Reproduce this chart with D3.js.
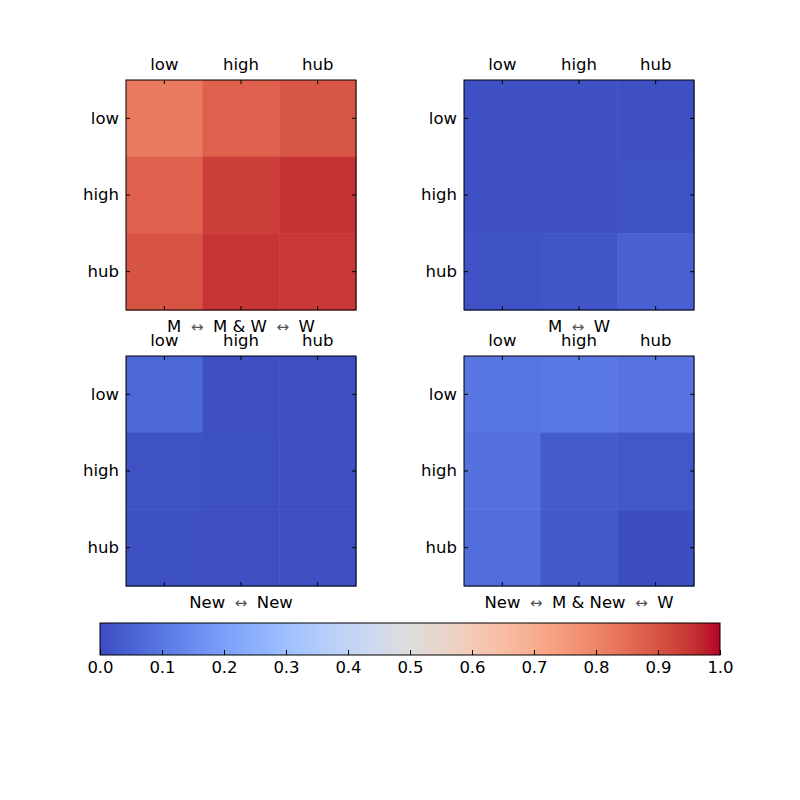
<!doctype html>
<html>
<head>
<script src="https://cdn.jsdelivr.net/npm/d3@7"></script>
<style>
  body { margin: 0; background: #fff; }
  text { font-family: "DejaVu Sans", sans-serif; }
</style>
</head>
<body>
<svg id="chart" width="800" height="800"></svg>
<script>
// categories on both axes
var levels = ["low", "high", "hub"];

// one matrix per panel, rows = y category, cols = x category
var mwMW  = [[0.825, 0.875, 0.895],
             [0.875, 0.935, 0.955],
             [0.900, 0.950, 0.945]];
var mW    = [[0.010, 0.010, 0.010],
             [0.010, 0.010, 0.015],
             [0.015, 0.020, 0.045]];
var newNew = [[0.060, 0.010, 0.006],
              [0.012, 0.008, 0.006],
              [0.008, 0.006, 0.006]];
var newMW = [[0.095, 0.100, 0.090],
             [0.085, 0.035, 0.025],
             [0.075, 0.030, 0.005]];

var panelData = [mwMW, mW, newNew, newMW];
// xlabel parts, arrows go between them
var panelLabels = [["M", "M & W", "W"], ["M", "W"], ["New", "New"], ["New", "M & New", "W"]];
var cbarTicks = [0, 0.1, 0.2, 0.3, 0.4, 0.5, 0.6, 0.7, 0.8, 0.9, 1.0];

// matplotlib coolwarm control points
var coolwarm = [
  [59,76,192],[68,90,204],[77,104,215],[87,117,225],[98,130,234],[108,142,241],
  [119,154,247],[130,165,251],[141,176,254],[152,185,255],[163,194,255],[174,201,253],
  [184,208,249],[194,213,244],[204,217,238],[213,219,230],[221,221,221],[229,216,209],
  [236,211,197],[241,204,185],[245,196,173],[247,187,160],[247,177,148],[247,166,135],
  [244,154,123],[241,141,111],[236,127,99],[229,112,88],[222,96,77],[213,80,66],
  [203,62,56],[192,40,47],[180,4,38]
].map(function(c) { return d3.rgb(c[0], c[1], c[2]).toString(); });

var color = d3.scaleLinear()
  .domain(d3.range(coolwarm.length).map(function(i) { return i / (coolwarm.length - 1); }))
  .range(coolwarm)
  .interpolate(d3.interpolateRgb)
  .clamp(true);

var svg = d3.select("#chart");
var size = 230;
var origins = [[126, 80], [464, 80], [126, 356], [464, 356]];

var x = d3.scaleBand().domain(levels).range([0, size]);
var y = d3.scaleBand().domain(levels).range([0, size]);

panelData.forEach(function(m, p) {
  var g = svg.append("g").attr("transform", "translate(" + origins[p][0] + "," + origins[p][1] + ")");

  var cells = [];
  m.forEach(function(row, i) {
    row.forEach(function(v, j) { cells.push({r: levels[i], c: levels[j], v: v}); });
  });

  g.selectAll("rect.cell")
    .data(cells)
    .enter().append("rect")
      .attr("class", "cell")
      .attr("x", function(d) { return x(d.c); })
      .attr("y", function(d) { return y(d.r); })
      .attr("width", x.bandwidth() + 0.5)
      .attr("height", y.bandwidth() + 0.5)
      .attr("fill", function(d) { return color(d.v); });

  // inward ticks on all four sides, labels on top and left
  var top = g.append("g").call(d3.axisTop(x).tickSize(-4).tickPadding(10));
  var bottom = g.append("g").attr("transform", "translate(0," + size + ")")
    .call(d3.axisBottom(x).tickSize(-4).tickFormat(""));
  var left = g.append("g").call(d3.axisLeft(y).tickSize(-4).tickPadding(7));
  var right = g.append("g").attr("transform", "translate(" + size + ",0)")
    .call(d3.axisRight(y).tickSize(-4).tickFormat(""));
  [top, bottom, left, right].forEach(function(a) {
    a.select(".domain").remove();
    a.selectAll("line").attr("stroke", "#000");
    a.selectAll("text").attr("font-size", 16.5).attr("fill", "#000").attr("font-family", "DejaVu Sans");
  });

  g.append("rect")
    .attr("width", size).attr("height", size)
    .attr("fill", "none").attr("stroke", "#000").attr("stroke-width", 1);

  // xlabel with arrows
  var lbl = g.append("text")
    .attr("x", size / 2).attr("y", size + 21.5)
    .attr("text-anchor", "middle")
    .attr("font-size", 16.5);
  panelLabels[p].forEach(function(part, k) {
    if (k > 0) {
      lbl.append("tspan").text("\u00a0\u00a0\u2194\u00a0\u00a0")
        .attr("font-size", 15).attr("fill", "#555");
    }
    lbl.append("tspan").text(part);
  });
});

// colorbar
var cb = svg.append("g").attr("transform", "translate(100,623)");
var cbW = 620, cbH = 32;
var grad = svg.append("defs").append("linearGradient").attr("id", "cw");
coolwarm.forEach(function(c, i) {
  grad.append("stop").attr("offset", (i / (coolwarm.length - 1) * 100) + "%").attr("stop-color", c);
});
cb.append("rect").attr("width", cbW).attr("height", cbH).attr("fill", "url(#cw)");

var cx = d3.scaleLinear().domain([0, 1]).range([0, cbW]);
var cax = cb.append("g").attr("transform", "translate(0," + cbH + ")")
  .call(d3.axisBottom(cx).tickValues(cbarTicks).tickFormat(d3.format(".1f")).tickSize(-5).tickPadding(6));
cax.select(".domain").remove();
cax.selectAll("line").attr("stroke", "#000");
cax.selectAll("text").attr("font-size", 16.5).attr("fill", "#000").attr("font-family", "DejaVu Sans");
cb.append("rect").attr("width", cbW).attr("height", cbH)
  .attr("fill", "none").attr("stroke", "#000").attr("stroke-width", 1);
</script>
</body>
</html>
